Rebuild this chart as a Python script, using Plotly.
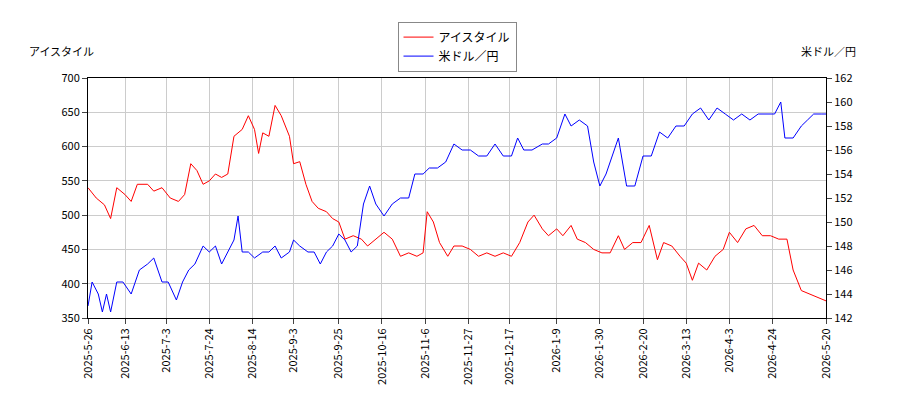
import plotly.graph_objects as go

# アイスタイル (left axis)
red_dates = ["2025-05-26","2025-05-30","2025-06-03","2025-06-06","2025-06-09","2025-06-13","2025-06-16","2025-06-19",
    "2025-06-24","2025-06-27","2025-07-01","2025-07-05","2025-07-09","2025-07-12","2025-07-15","2025-07-18",
    "2025-07-21","2025-07-24","2025-07-27","2025-07-30","2025-08-02","2025-08-05","2025-08-09","2025-08-12",
    "2025-08-15","2025-08-17","2025-08-19","2025-08-22","2025-08-25","2025-08-28","2025-09-01","2025-09-03",
    "2025-09-06","2025-09-09","2025-09-12","2025-09-15","2025-09-19","2025-09-22","2025-09-25","2025-09-28",
    "2025-10-02","2025-10-06","2025-10-09","2025-10-13","2025-10-17","2025-10-21","2025-10-25","2025-10-29",
    "2025-11-02","2025-11-05","2025-11-07","2025-11-10","2025-11-13","2025-11-17","2025-11-20","2025-11-24",
    "2025-11-28","2025-12-02","2025-12-06","2025-12-10","2025-12-14","2025-12-18","2025-12-22","2025-12-26",
    "2025-12-29","2026-01-02","2026-01-05","2026-01-09","2026-01-12","2026-01-16","2026-01-19","2026-01-23",
    "2026-01-27","2026-01-31","2026-02-04","2026-02-08","2026-02-11","2026-02-15","2026-02-19","2026-02-23",
    "2026-02-27","2026-03-02","2026-03-06","2026-03-10","2026-03-13","2026-03-16","2026-03-19","2026-03-23",
    "2026-03-27","2026-03-31","2026-04-03","2026-04-07","2026-04-11","2026-04-15","2026-04-19","2026-04-23",
    "2026-04-27","2026-05-01","2026-05-04","2026-05-08","2026-05-12","2026-05-16","2026-05-20"]
red_vals = [540,525,515,495,540,530,520,545,545,535,540,525,520,530,575,565,545,550,560,555,560,615,625,645,
    625,590,620,615,660,645,615,575,578,545,520,510,505,495,490,465,470,465,455,465,475,465,440,445,440,445,
    505,490,460,440,455,455,450,440,445,440,445,440,460,490,500,480,470,480,470,485,465,460,450,445,445,470,
    450,460,460,485,435,460,455,440,430,405,430,420,440,450,475,460,480,485,470,470,465,465,420,390,385,380,375]

# 米ドル／円 (right axis)
blue_dates = ["2025-05-26","2025-05-28","2025-05-31","2025-06-02","2025-06-04","2025-06-06","2025-06-09","2025-06-12",
    "2025-06-16","2025-06-20","2025-06-24","2025-06-27","2025-07-01","2025-07-04","2025-07-08","2025-07-11",
    "2025-07-14","2025-07-17","2025-07-21","2025-07-24","2025-07-27","2025-07-30","2025-08-02","2025-08-05",
    "2025-08-07","2025-08-09","2025-08-12","2025-08-15","2025-08-19","2025-08-22","2025-08-25","2025-08-28",
    "2025-09-01","2025-09-03","2025-09-06","2025-09-10","2025-09-13","2025-09-16","2025-09-19","2025-09-22",
    "2025-09-25","2025-09-28","2025-10-01","2025-10-04","2025-10-07","2025-10-10","2025-10-13","2025-10-17",
    "2025-10-21","2025-10-25","2025-10-29","2025-11-01","2025-11-05","2025-11-08","2025-11-12","2025-11-16",
    "2025-11-20","2025-11-24","2025-11-28","2025-12-02","2025-12-06","2025-12-10","2025-12-14","2025-12-18",
    "2025-12-21","2025-12-24","2025-12-28","2026-01-02","2026-01-05","2026-01-09","2026-01-13","2026-01-16",
    "2026-01-20","2026-01-24","2026-01-27","2026-01-30","2026-02-02","2026-02-05","2026-02-08","2026-02-12",
    "2026-02-16","2026-02-20","2026-02-24","2026-02-28","2026-03-04","2026-03-08","2026-03-12","2026-03-16",
    "2026-03-20","2026-03-24","2026-03-28","2026-04-01","2026-04-05","2026-04-09","2026-04-13","2026-04-17",
    "2026-04-21","2026-04-25","2026-04-28","2026-04-30","2026-05-04","2026-05-08","2026-05-11","2026-05-14",
    "2026-05-18","2026-05-20"]
blue_vals = [143,145,144,142.5,144,142.5,145,145,144,146,146.5,147,145,145,143.5,145,146,146.5,148,147.5,148,
    146.5,147.5,148.5,150.5,147.5,147.5,147,147.5,147.5,148,147,147.5,148.5,148,147.5,147.5,146.5,147.5,148,
    149,148.5,147.5,148,151.5,153,151.5,150.5,151.5,152,152,154,154,154.5,154.5,155,156.5,156,156,155.5,155.5,
    156.5,155.5,155.5,157,156,156,156.5,156.5,157,159,158,158.5,158,155,153,154,155.5,157,153,153,155.5,155.5,
    157.5,157,158,158,159,159.5,158.5,159.5,159,158.5,159,158.5,159,159,159,160,157,157,158,158.5,159,159,159]

tick_dates = ["2025-05-26","2025-06-13","2025-07-03","2025-07-24","2025-08-14","2025-09-03","2025-09-25",
    "2025-10-16","2025-11-06","2025-11-27","2025-12-17","2026-01-09","2026-01-30","2026-02-20","2026-03-13",
    "2026-04-03","2026-04-24","2026-05-20"]
tick_text = ["2025-5-26","2025-6-13","2025-7-3","2025-7-24","2025-8-14","2025-9-3","2025-9-25","2025-10-16",
    "2025-11-6","2025-11-27","2025-12-17","2026-1-9","2026-1-30","2026-2-20","2026-3-13","2026-4-3",
    "2026-4-24","2026-5-20"]

fig = go.Figure()
fig.add_trace(go.Scatter(x=red_dates, y=red_vals, mode="lines", name="アイスタイル",
                         line=dict(color="red", width=1)))
fig.add_trace(go.Scatter(x=blue_dates, y=blue_vals, mode="lines", name="米ドル／円",
                         line=dict(color="blue", width=1), yaxis="y2"))

ax = dict(showline=True, linecolor="black", mirror=True, ticks="outside", gridcolor="#cccccc",
          tickfont=dict(size=11, color="black"), zeroline=False, automargin=False)
fig.update_layout(
    width=900, height=400, plot_bgcolor="white", paper_bgcolor="white",
    font=dict(family="Noto Sans CJK JP", size=11, color="black"),
    margin=dict(l=80, r=82, t=70, b=90),
    xaxis=dict(ax, range=["2025-05-26", "2026-05-20"], tickvals=tick_dates, ticktext=tick_text, tickangle=-90),
    yaxis=dict(ax, range=[350, 700], dtick=50),
    yaxis2=dict(ax, overlaying="y", side="right", range=[142, 162], dtick=2, showgrid=False),
    legend=dict(x=0.5, xanchor="center", y=1.235, yanchor="top", bordercolor="#888", borderwidth=1,
                font=dict(size=12)),
    annotations=[
        dict(text="アイスタイル", xref="paper", yref="paper", x=-0.083, y=1.07, showarrow=False,
             xanchor="left", yanchor="bottom", font=dict(size=11)),
        dict(text="米ドル／円", xref="paper", yref="paper", x=1.043, y=1.07, showarrow=False,
             xanchor="right", yanchor="bottom", font=dict(size=11)),
    ],
)
fig.write_html("out.html")
